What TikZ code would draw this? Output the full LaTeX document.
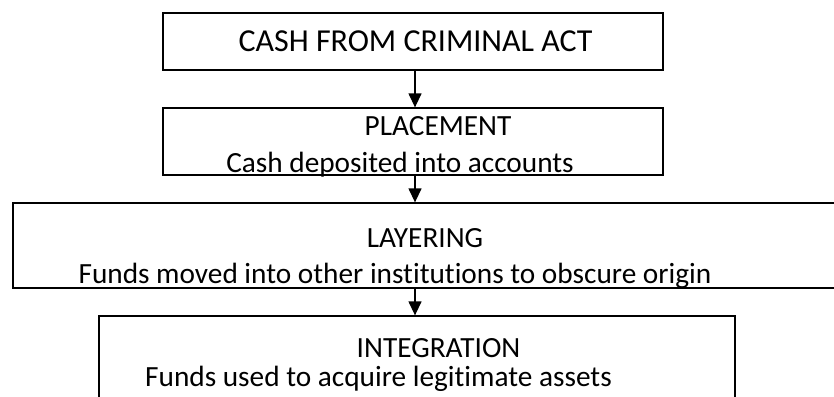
\documentclass[tikz,border=0pt]{standalone}
\usepackage{fontspec}
\setmainfont[Ligatures=NoCommon]{Carlito}
\usetikzlibrary{arrows.meta}

\begin{document}
\begin{tikzpicture}[x=1pt,y=-1pt,
				stage/.style={draw,line width=1.3pt,inner sep=0pt},
				headtext/.style={inner sep=0pt,anchor=base,font=\fontsize{32}{38}\selectfont},
				stagetext/.style={inner sep=0pt,anchor=base,font=\fontsize{29.3}{35}\selectfont},
				flow/.style={line width=1.3pt,-{Triangle[length=14pt,width=13pt]}}
				]
				\useasboundingbox (0,0) rectangle (834,396);
				\clip (0,0) rectangle (834,396);
				% the four stages
				\node[stage,minimum width=500pt,minimum height=57pt] (cash) at (413,41.5) {};
				\node[stage,minimum width=500pt,minimum height=67pt] (placement) at (413,141.5) {};
				\node[stage,minimum width=837pt,minimum height=85pt] (layering) at (431.5,245.5) {};
				\node[stage,minimum width=636pt,minimum height=94pt] (integration) at (417,363) {};
				% texts
				\node[headtext] (cashtext) at (415.5,52) {CASH FROM CRIMINAL ACT};
				\node[stagetext] (placementtext) at (438,135) {PLACEMENT};
				\node[stagetext] (placementnote) at (400,172) {Cash deposited into accounts};
				\node[stagetext] (layeringtext) at (425,247) {LAYERING};
				\node[stagetext] (layeringnote) at (395,283) {Funds moved into other institutions to obscure origin};
				\node[stagetext] (integrationtext) at (438.5,357) {INTEGRATION};
				\node[stagetext] (integrationnote) at (378.5,386) {Funds used to acquire legitimate assets};
				% arrows
				\coordinate (spine) at (415,0);
				\draw[flow] (cash.south -| spine) -- (placement.north -| spine);
				\draw[flow] (placement.south -| spine) -- (layering.north -| spine);
				\draw[flow] (layering.south -| spine) -- (integration.north -| spine);

			\end{tikzpicture}
\end{document}
